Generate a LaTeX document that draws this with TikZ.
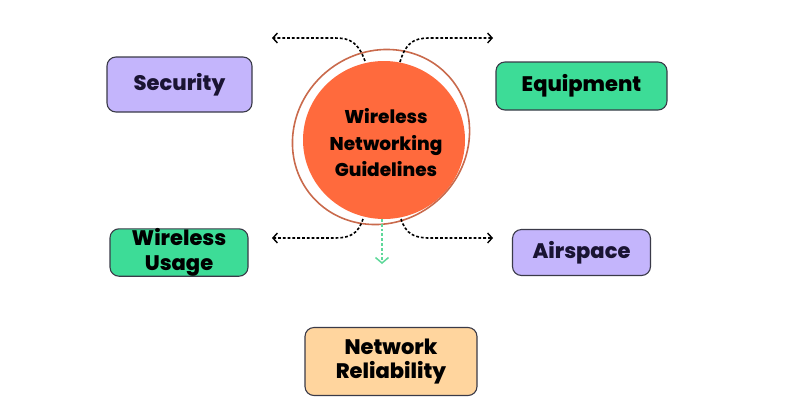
\documentclass[tikz,border=0pt]{standalone}
\usepackage{fontspec}
\setmainfont{Poppins}[UprightFont={* ExtraBold}]
\usetikzlibrary{arrows.meta,shapes.geometric}
\definecolor{lav}{HTML}{C4B5FC}
\definecolor{grn}{HTML}{3DDC97}
\definecolor{peach}{HTML}{FFD59E}
\definecolor{hubfill}{HTML}{FF6A3D}
\definecolor{hubline}{HTML}{C96A4C}
\definecolor{navy}{HTML}{1A1433}
\definecolor{edge}{HTML}{3A3A48}
\definecolor{gdash}{HTML}{5FD89A}
\tikzset{
  box/.style={draw=edge, line width=1.1pt, rounded corners=9pt, align=center,
    font=\fontsize{21}{24.5}\selectfont, inner sep=0pt},
  conn/.style={line width=1.6pt, dash pattern=on 2.8pt off 2pt,
    -{Straight Barb[length=4.5pt,width=10pt,line width=1.4pt]}},
}
\begin{document}
\begin{tikzpicture}[x=1pt,y=-1pt]
\useasboundingbox (0,0) rectangle (800,400);
% boxes
\node[box, fill=lav, text=navy, minimum width=145pt, minimum height=55pt] (sec) at (179.5,84.5) {Security};
\node[box, fill=grn, text=black, minimum width=171pt, minimum height=48pt] (equ) at (581.5,86) {Equipment};
\node[box, fill=grn, text=black, minimum width=138pt, minimum height=47pt] (wus) at (179,252.5) {Wireless\\Usage};
\node[box, fill=lav, text=navy, minimum width=138pt, minimum height=46pt] (air) at (581.5,252.5) {Airspace};
\node[box, fill=peach, text=black, minimum width=172pt, minimum height=68pt] (rel) at (391,361.5) {Network\\Reliability};
% hub
\node[ellipse, fill=hubfill, minimum width=162pt, minimum height=158pt, inner sep=0pt] (hub) at (384,140) {};
\draw[hubline, line width=1.6pt, rotate around={40:(381,137)}] (381,137) ellipse [x radius=91, y radius=85];
\node[align=center, font=\fontsize{18.5}{26.5}\selectfont, text=black] (hubtxt) at (386,143) {Wireless\\Networking\\Guidelines};
% connector points
\coordinate (tl0) at (365,61);
\coordinate (tl1) at (272,38);
\coordinate (tr0) at (400,62);
\coordinate (tr1) at (493,38);
\coordinate (bl0) at (363,219);
\coordinate (bl1) at (272,238);
\coordinate (br0) at (401,219);
\coordinate (br1) at (493,238);
\coordinate (bd0) at (382,219);
\coordinate (bd1) at (382,264);
\draw[conn] (tl0) .. controls (358,42) and (350,38) .. (335,38) -- (tl1);
\draw[conn] (tr0) .. controls (406,42) and (414,38) .. (430,38) -- (tr1);
\draw[conn] (bl0) .. controls (358,234) and (350,238) .. (335,238) -- (bl1);
\draw[conn] (br0) .. controls (406,234) and (414,238) .. (430,238) -- (br1);
\draw[conn, gdash, line width=1.8pt, -{Straight Barb[length=5.5pt,width=13pt,line width=1.5pt]}] (bd0) -- (bd1);
\end{tikzpicture}
\end{document}
